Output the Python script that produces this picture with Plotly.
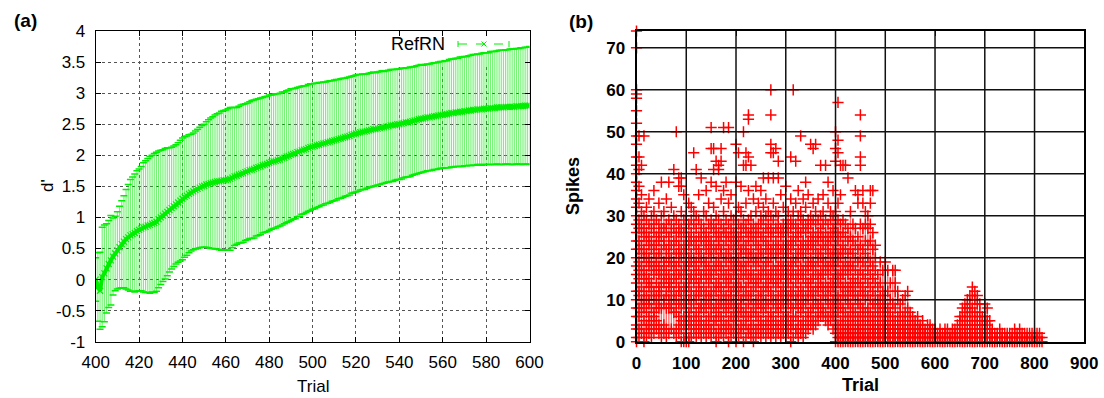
import plotly.graph_objects as go

# ---------------- panel (a) data ----------------
TRIALS_A = list(range(400, 601))
MEAN_A = [
    0.00, -0.12, -0.18, 0.04, 0.10, 0.18, 0.25, 0.31, 0.37, 0.42,
    0.47, 0.52, 0.57, 0.61, 0.65, 0.68, 0.71, 0.73, 0.75, 0.78,
    0.80, 0.82, 0.84, 0.85, 0.87, 0.88, 0.90, 0.91, 0.93, 0.97,
    1.00, 1.03, 1.06, 1.09, 1.12, 1.15, 1.18, 1.21, 1.24, 1.27,
    1.30, 1.33, 1.35, 1.38, 1.40, 1.42, 1.44, 1.46, 1.48, 1.50,
    1.51, 1.53, 1.54, 1.55, 1.56, 1.57, 1.58, 1.58, 1.59, 1.60,
    1.60, 1.61, 1.62, 1.64, 1.66, 1.67, 1.69, 1.70, 1.71, 1.73,
    1.74, 1.76, 1.77, 1.78, 1.80, 1.81, 1.82, 1.84, 1.85, 1.86,
    1.88, 1.89, 1.90, 1.91, 1.92, 1.93, 1.95, 1.96, 1.98, 1.99,
    2.01, 2.02, 2.03, 2.05, 2.06, 2.08, 2.09, 2.10, 2.12, 2.13,
    2.14, 2.15, 2.16, 2.17, 2.18, 2.19, 2.20, 2.21, 2.22, 2.23,
    2.24, 2.25, 2.26, 2.27, 2.28, 2.29, 2.30, 2.31, 2.33, 2.34,
    2.35, 2.36, 2.37, 2.38, 2.38, 2.39, 2.40, 2.41, 2.42, 2.42,
    2.43, 2.44, 2.45, 2.45, 2.46, 2.47, 2.48, 2.48, 2.49, 2.50,
    2.50, 2.51, 2.52, 2.53, 2.53, 2.54, 2.55, 2.56, 2.57, 2.58,
    2.59, 2.59, 2.60, 2.61, 2.61, 2.62, 2.63, 2.63, 2.64, 2.65,
    2.65, 2.66, 2.66, 2.67, 2.68, 2.68, 2.69, 2.69, 2.70, 2.70,
    2.71, 2.71, 2.72, 2.72, 2.73, 2.73, 2.74, 2.74, 2.74, 2.75,
    2.75, 2.75, 2.76, 2.76, 2.76, 2.77, 2.77, 2.77, 2.77, 2.78,
    2.78, 2.78, 2.78, 2.78, 2.79, 2.79, 2.79, 2.79, 2.80, 2.80,
    2.80,
]
STD_A = [
    0.35, 0.55, 0.62, 0.80, 0.78, 0.72, 0.70, 0.72, 0.62, 0.60,
    0.62, 0.66, 0.70, 0.74, 0.80, 0.85, 0.90, 0.92, 0.95, 0.97,
    0.98, 1.00, 1.04, 1.06, 1.08, 1.10, 1.10, 1.12, 1.12, 1.10,
    1.08, 1.06, 1.05, 1.03, 1.00, 0.98, 0.97, 0.96, 0.96, 0.97,
    0.98, 0.97, 0.96, 0.95, 0.94, 0.94, 0.95, 0.96, 0.97, 0.98,
    0.99, 1.01, 1.03, 1.05, 1.06, 1.08, 1.09, 1.10, 1.12, 1.12,
    1.13, 1.14, 1.15, 1.13, 1.11, 1.10, 1.10, 1.11, 1.11, 1.10,
    1.10, 1.10, 1.11, 1.11, 1.10, 1.10, 1.10, 1.09, 1.09, 1.09,
    1.09, 1.08, 1.08, 1.08, 1.07, 1.07, 1.07, 1.06, 1.06, 1.06,
    1.06, 1.05, 1.05, 1.04, 1.04, 1.03, 1.03, 1.02, 1.02, 1.02,
    1.01, 1.01, 1.00, 1.00, 0.99, 0.99, 0.98, 0.98, 0.98, 0.97,
    0.97, 0.97, 0.96, 0.96, 0.96, 0.95, 0.95, 0.95, 0.94, 0.94,
    0.94, 0.94, 0.93, 0.93, 0.93, 0.92, 0.92, 0.92, 0.92, 0.91,
    0.91, 0.91, 0.91, 0.90, 0.90, 0.90, 0.90, 0.90, 0.89, 0.89,
    0.89, 0.89, 0.88, 0.88, 0.88, 0.88, 0.87, 0.87, 0.87, 0.87,
    0.87, 0.86, 0.86, 0.86, 0.86, 0.86, 0.86, 0.86, 0.86, 0.86,
    0.86, 0.86, 0.86, 0.87, 0.87, 0.87, 0.87, 0.87, 0.88, 0.88,
    0.88, 0.88, 0.88, 0.89, 0.89, 0.89, 0.89, 0.89, 0.90, 0.90,
    0.90, 0.90, 0.91, 0.91, 0.91, 0.91, 0.92, 0.92, 0.92, 0.92,
    0.92, 0.93, 0.93, 0.93, 0.93, 0.93, 0.94, 0.94, 0.94, 0.94,
    0.95,
]
X_TICKS_A = [400, 420, 440, 460, 480, 500, 520, 540, 560, 580, 600]
Y_TICKS_A = [-1, -0.5, 0, 0.5, 1, 1.5, 2, 2.5, 3, 3.5, 4]
Y_LABELS_A = ["-1", "-0.5", "0", "0.5", "1", "1.5", "2", "2.5", "3", "3.5", "4"]
SERIES_A = "RefRN"

# ---------------- panel (b) data ----------------
TRIALS_B = list(range(0, 816, 5))
SPIKES_B = [
    # 0-45
    "0 1 3 4 6 8 10 12 14 16 18 20 22 24 26 28 30 32 34 36 38 40 42 44 47 49 52 55 58 59 60 70 74",
    "1 3 6 8 11 12 15 17 19 22 24 27 29 33 37 41 44 49",
    "2 4 7 9 10 13 16 18 21 23 26 28 31 35 42",
    "0 2 5 8 10 12 15 17 20 22 25 27 30 49",
    "1 3 4 7 9 11 14 16 19 21 24 26 29 32",
    "2 4 6 9 10 13 15 18 20 23 25 28 34",
    "1 3 5 8 11 13 14 17 19 22 24 27 30",
    "2 4 6 7 10 12 16 18 21 23 26 28 31 36",
    "3 5 8 9 11 14 17 19 20 23 25 29",
    "2 4 8 10 12 13 16 18 21 24 26 28 33",
    # 50-95
    "1 3 8 11 13 15 17 20 22 25 27 30 38",
    "2 4 9 10 14 16 18 19 23 24 27 31",
    "1 3 8 11 12 15 17 20 22 26 28 34",
    "2 8 10 13 14 16 19 21 23 25 29 38",
    "3 8 9 11 13 15 18 20 23 26 28 32",
    "2 7 10 12 15 17 19 22 24 27 30 41",
    "1 3 7 9 11 14 16 18 21 24 26 29 50",
    "2 4 6 9 12 13 16 19 21 23 26 28 39 37",
    "0 3 5 8 10 12 15 17 20 22 25 27 31 39 37",
    "0 1 4 6 9 11 13 16 18 21 23 26 29 35",
    # 100-145
    "0 2 3 5 8 10 12 14 17 19 22 24 27 30",
    "0 1 4 6 7 10 13 15 18 20 23 25 28 33",
    "1 3 5 8 10 12 15 16 19 21 24 26 29 32",
    "2 4 6 9 11 14 16 18 20 23 25 28 31 45",
    "1 3 5 7 10 12 15 17 19 22 24 27 30 41",
    "2 4 6 8 11 13 14 17 20 22 25 29 35",
    "1 3 5 8 9 12 15 16 19 21 24 26 28 39",
    "2 4 7 9 11 13 16 18 20 23 25 27 31",
    "1 3 5 8 10 12 15 17 19 22 24 26 30 36",
    "2 4 6 9 11 14 16 18 21 23 25 28 33",
    # 150-195
    "1 3 6 8 10 12 15 17 20 22 24 27 29 51 38 46",
    "2 4 5 8 11 13 16 18 21 23 26 28 32 41 46",
    "0 2 5 7 9 12 14 17 19 22 25 27 30 43 37",
    "1 3 6 8 10 13 15 18 20 23 24 26 29 42 41",
    "2 4 6 9 11 13 16 18 21 22 25 28 34 46 43",
    "1 3 5 8 10 12 15 17 20 23 26 27 31 51 36",
    "2 4 7 9 11 14 16 19 21 24 26 29 38",
    "0 3 5 8 10 13 15 17 20 22 25 28 33 51",
    "1 3 6 9 11 12 15 18 20 23 25 27 30 35",
    "2 4 6 8 10 13 16 17 19 22 24 26 29",
    # 200-245
    "0 2 5 7 9 12 14 17 19 21 24 26 30 47 38",
    "1 3 6 8 11 13 15 18 20 23 25 28 32 45",
    "2 4 7 9 10 13 16 18 21 22 25 27 31 37",
    "0 3 5 7 10 12 15 17 19 22 24 27 29 50 42",
    "1 4 6 8 11 13 16 18 21 23 26 28 33 45 42",
    "2 3 6 9 11 14 16 19 21 24 26 29 36 54 53 44",
    "1 3 5 7 10 12 15 17 20 22 25 27 30 42",
    "0 2 4 7 9 12 14 16 19 21 24 26 28 34",
    "1 3 6 8 10 13 15 18 20 23 25 27 31 37",
    "2 4 6 9 11 14 16 19 21 23 26 28 33",
    # 250-295
    "1 3 5 8 10 12 15 17 20 22 25 28 30 36",
    "2 4 7 9 11 13 16 18 21 24 26 29 32 39",
    "1 3 5 8 10 13 15 17 19 22 24 27 30 34",
    "2 4 6 9 12 14 16 19 21 23 26 28 31 39",
    "1 3 5 7 10 12 15 17 20 22 25 27 30 60 54 47 45",
    "2 4 6 9 11 14 16 18 21 23 26 29 33 45 39",
    "1 3 5 8 10 13 15 17 20 22 24 27 31 46",
    "2 4 7 9 11 14 16 18 21 23 26 28 30 43 39",
    "1 3 5 8 10 12 15 17 19 22 25 27 35",
    "2 4 6 9 11 13 16 18 21 23 26 28 32",
    # 300-345
    "1 3 5 7 10 12 15 17 20 22 24 27 29 37",
    "2 4 6 9 11 14 16 18 21 23 26 28 31",
    "0 3 5 8 10 12 15 17 19 22 24 27 29 44 34",
    "1 4 6 8 11 13 16 18 20 23 25 28 31 60",
    "2 3 6 9 11 14 16 19 21 24 26 28 33 43",
    "1 3 5 8 10 12 15 17 20 22 25 27 30 36",
    "2 4 7 9 11 13 16 18 21 23 26 29 31 49",
    "1 3 5 8 10 12 15 17 20 22 24 27 29 34",
    "2 4 6 9 11 14 16 18 21 23 26 28 32 38",
    "3 5 7 10 12 14 17 19 22 24 27 29 35",
    # 350-395
    "4 6 8 11 13 15 18 20 23 25 28 30 47",
    "3 5 8 10 12 15 17 19 22 24 26 29 33 46",
    "4 6 9 11 13 16 18 21 23 25 28 31 47",
    "5 7 9 12 14 16 19 21 24 26 29 34",
    "6 8 10 13 15 17 20 22 25 27 30 42",
    "6 8 11 13 16 18 20 23 25 28 31 35",
    "5 7 10 12 14 17 19 22 24 26 29 42",
    "4 6 9 11 13 16 18 21 23 25 28 33 38",
    "5 7 9 12 14 17 19 21 24 26 29 31",
    "3 6 8 10 13 15 18 20 22 25 27 30 36",
    # 400-445
    "0 2 4 6 9 11 13 16 18 21 23 26 28 31 50 46 43",
    "0 1 2 4 7 9 11 14 16 19 21 24 26 29 33 57 48 45",
    "0 1 2 3 5 8 10 13 15 17 20 22 25 28 35 42",
    "0 1 2 4 6 8 11 13 16 18 21 23 26 29 42",
    "0 1 2 3 5 7 10 12 14 17 19 22 25 28 42",
    "0 1 2 3 4 6 9 11 13 16 18 21 24 27 39",
    "0 1 2 3 5 7 9 12 14 17 19 22 25 31",
    "0 1 2 4 6 8 11 13 15 18 21 24 28",
    "0 1 2 3 5 7 10 12 14 17 20 23 27 36",
    "0 1 2 3 4 6 9 11 14 16 19 22 25 35 33",
    # 450-495
    "0 1 2 3 5 7 9 12 14 17 20 23 28 54 49 44 42",
    "0 1 2 4 6 8 11 13 16 19 22 27 36 33",
    "0 1 2 3 5 7 10 12 15 18 21 24 28 31",
    "0 1 2 4 6 8 11 14 17 20 23 27 30",
    "0 1 2 3 5 7 10 13 16 19 24 28 36 33",
    "0 1 2 3 4 6 9 12 15 18 22 26 36",
    "0 1 2 3 5 7 9 11 14 17 20 23",
    "0 1 2 3 4 6 8 10 13 16",
    "0 1 2 3 5 7 9 11 14 19",
    "0 1 2 3 4 6 8 10 12 17",
    # 500-545
    "0 1 2 3 4 5 7 9 11 19",
    "0 1 2 3 4 6 8 12 17",
    "0 1 2 3 5 7 10 14",
    "0 1 2 3 4 6 9 17",
    "0 1 2 3 5 8 12 14 17",
    "0 1 2 3 4 6 10 12",
    "0 1 2 3 5 7 9",
    "0 1 2 3 4 6 10",
    "0 1 2 3 5 7 11",
    "0 1 2 3 4 6 8 12",
    # 550-595
    "0 1 2 3 5 7",
    "0 1 2 3 4 6",
    "0 1 2 3 5",
    "0 1 2 3 4 6",
    "0 1 2 3 4",
    "0 1 2 3 5",
    "0 1 2 3",
    "0 1 2 4",
    "0 1 2 3 4",
    "0 1 2 3",
    # 600-645
    "0 1 2 3",
    "0 1 2",
    "0 1 2 3",
    "0 1 2",
    "0 1 2 3",
    "0 1 2 3",
    "0 1 2",
    "0 1 2 3",
    "0 1 2 3",
    "0 1 2 4",
    # 650-695
    "0 1 2 3 5 6",
    "0 1 2 4 6 8",
    "0 1 2 3 5 7 9",
    "0 1 2 4 6 8 10",
    "0 1 2 3 5 7 9 11",
    "0 1 2 4 6 8 11 13",
    "0 1 2 3 5 7 10 12",
    "0 1 2 4 6 9 11",
    "0 1 2 3 5 7 9",
    "0 1 2 4 6",
    # 700-745
    "0 1 2 3 5 6 9",
    "0 1 2 4 5 8",
    "0 1 2 3 5",
    "0 1 2 3",
    "0 1 2",
    "0 1 2",
    "0 1 2 3",
    "0 1 2",
    "0 1 2",
    "0 1 2",
    # 750-795
    "0 1 2",
    "0 1 2",
    "0 1 2 3",
    "0 1 2",
    "0 1 2 3",
    "0 1 2",
    "0 1 2",
    "0 1 2",
    "0 1 2",
    "0 1 2",
    # 800-815
    "0 1 2",
    "0 1 2",
    "0 1 2",
    "0 1",
]
X_TICKS_B = [0, 100, 200, 300, 400, 500, 600, 700, 800, 900]
Y_TICKS_B = [0, 10, 20, 30, 40, 50, 60, 70]

# ---------------- figure ----------------
W, H = 1104, 398
FONT = "Liberation Sans, Arial, sans-serif"
GREEN = "#00ee00"
RED = "#ff0000"


def px_x(p):
    return p / W


def px_y(p):
    return 1 - p / H


fig = go.Figure()

upper_a = [m + s for m, s in zip(MEAN_A, STD_A)]
lower_a = [m - s for m, s in zip(MEAN_A, STD_A)]

# error bars (light green)
fig.add_trace(go.Scatter(
    x=TRIALS_A, y=MEAN_A, mode="markers",
    marker=dict(size=1, color="rgba(0,0,0,0)"),
    error_y=dict(type="data", array=STD_A, visible=True,
                 color="rgba(30,235,30,0.6)", thickness=1.2, width=0),
    xaxis="x", yaxis="y", hoverinfo="skip"))
# error bar caps
for env in (upper_a, lower_a):
    fig.add_trace(go.Scatter(
        x=TRIALS_A, y=env, mode="markers",
        marker=dict(symbol="line-ew", size=5, color=GREEN,
                    line=dict(width=1.5, color=GREEN)),
        xaxis="x", yaxis="y", hoverinfo="skip"))
# mean line
fig.add_trace(go.Scatter(
    x=TRIALS_A, y=MEAN_A, mode="lines+markers",
    line=dict(color=GREEN, width=4),
    marker=dict(symbol="x-thin", size=6, color=GREEN,
                line=dict(width=1.2, color=GREEN)),
    xaxis="x", yaxis="y", name=SERIES_A))

# panel (b): per-trial spike values
xs, ys = [], []
lx, ly_ = [], []
for t, col in zip(TRIALS_B, SPIKES_B):
    vals = [int(v) for v in col.split()]
    core = [v for v in vals if v <= 31]
    # connecting strokes between consecutive points of the same trial group
    lx += [t, t, None]
    ly_ += [min(core), max(core), None]
    for v in vals:
        xs.append(t)
        ys.append(v)
fig.add_trace(go.Scatter(
    x=lx, y=ly_, mode="lines", cliponaxis=False,
    line=dict(color="rgba(255,0,0,0.6)", width=1.3),
    xaxis="x2", yaxis="y2", hoverinfo="skip"))
fig.add_trace(go.Scatter(
    x=xs, y=ys, mode="markers", cliponaxis=False,
    marker=dict(symbol="cross-thin", size=8, color=RED,
                line=dict(width=1.5, color=RED)),
    xaxis="x2", yaxis="y2", hoverinfo="skip"))

dom_xa = [px_x(95.7), px_x(529.5)]
dom_xb = [px_x(636.5), px_x(1084.3)]
dom_y = [px_y(341.7), px_y(31)]

axis_common = dict(showline=True, linecolor="black", zeroline=False,
                   ticks="inside", mirror="ticks", layer="above traces",
                   automargin=False)

fig.update_layout(
    width=W, height=H, margin=dict(l=0, r=0, t=0, b=0),
    paper_bgcolor="white", plot_bgcolor="white", showlegend=False,
    font=dict(family=FONT, color="black"),
    xaxis=dict(domain=dom_xa, range=[400, 600], tickvals=X_TICKS_A,
               ticktext=[str(v) for v in X_TICKS_A], ticklen=5, linewidth=1,
               tickcolor="black",
               showgrid=True, gridcolor="#555", griddash="dot", gridwidth=1,
               tickfont=dict(size=17), ticklabelstandoff=5, anchor="y",
               **axis_common),
    yaxis=dict(domain=dom_y, range=[-1, 4], tickvals=Y_TICKS_A,
               ticktext=Y_LABELS_A, ticklen=5, linewidth=1, tickcolor="black",
               showgrid=True, gridcolor="#555", griddash="dot", gridwidth=1,
               tickfont=dict(size=17), ticklabelstandoff=6, anchor="x",
               **axis_common),
    xaxis2=dict(domain=dom_xb, range=[0, 900], tickvals=X_TICKS_B,
                ticktext=[str(v) for v in X_TICKS_B], ticklen=5, linewidth=2,
                tickcolor="black", showgrid=False,
                tickfont=dict(size=17, weight="bold"), ticklabelstandoff=5,
                anchor="y2", **axis_common),
    yaxis2=dict(domain=dom_y, range=[0, 74], tickvals=Y_TICKS_B,
                ticktext=[str(v) for v in Y_TICKS_B], ticklen=5, linewidth=2,
                tickcolor="black", showgrid=False,
                tickfont=dict(size=17, weight="bold"), ticklabelstandoff=6,
                anchor="x2", **axis_common),
)

shapes = []
# legend background box hiding grid in panel (a)
shapes.append(dict(type="rect", xref="x", yref="y", x0=536, x1=600, y0=3.45, y1=4,
                   fillcolor="white", line=dict(width=0), layer="between"))
# panel (b) grid drawn on top of points
for v in X_TICKS_B[1:-1]:
    shapes.append(dict(type="line", xref="x2", yref="y2 domain", x0=v, x1=v, y0=0, y1=1,
                       line=dict(color="#111", width=1.5), layer="above"))
for v in Y_TICKS_B[1:]:
    shapes.append(dict(type="line", xref="x2 domain", yref="y2", x0=0, x1=1, y0=v, y1=v,
                       line=dict(color="#111", width=1.5), layer="above"))
# legend sample (dashed errorbar line with x marker)
ly = px_y(44)
shapes.append(dict(type="line", xref="paper", yref="paper", x0=px_x(458), x1=px_x(509),
                   y0=ly, y1=ly, line=dict(color=GREEN, width=1, dash="dash")))
for xp in (458, 509):
    shapes.append(dict(type="line", xref="paper", yref="paper", x0=px_x(xp), x1=px_x(xp),
                       y0=px_y(41), y1=px_y(47), line=dict(color=GREEN, width=1)))
shapes.append(dict(type="line", xref="paper", yref="paper", x0=px_x(481.5), x1=px_x(486.5),
                   y0=px_y(41.5), y1=px_y(46.5), line=dict(color=GREEN, width=1)))
shapes.append(dict(type="line", xref="paper", yref="paper", x0=px_x(481.5), x1=px_x(486.5),
                   y0=px_y(46.5), y1=px_y(41.5), line=dict(color=GREEN, width=1)))
fig.update_layout(shapes=shapes)

ann = [
    dict(text="<b>(a)</b>", x=px_x(25.5), y=px_y(21), font=dict(size=19)),
    dict(text="<b>(b)</b>", x=px_x(581), y=px_y(21.5), font=dict(size=19)),
    dict(text="d'", x=px_x(47), y=px_y(186), textangle=-90, font=dict(size=17)),
    dict(text="Trial", x=px_x(313), y=px_y(386), font=dict(size=17)),
    dict(text="<b>Spikes</b>", x=px_x(573), y=px_y(186), textangle=-90, font=dict(size=18)),
    dict(text="<b>Trial</b>", x=px_x(860), y=px_y(385), font=dict(size=18)),
    dict(text=SERIES_A, x=px_x(447), y=px_y(44), xanchor="right", font=dict(size=18)),
]
for a in ann:
    a.setdefault("xanchor", "center")
    a.update(xref="paper", yref="paper", yanchor="middle", showarrow=False)
fig.update_layout(annotations=ann)

# remove the default page margin so the figure fills the window exactly
fig.write_html(
    "out.html",
    config={"displayModeBar": False},
    post_script="document.body.style.margin='0';document.body.style.overflow='hidden';",
)
